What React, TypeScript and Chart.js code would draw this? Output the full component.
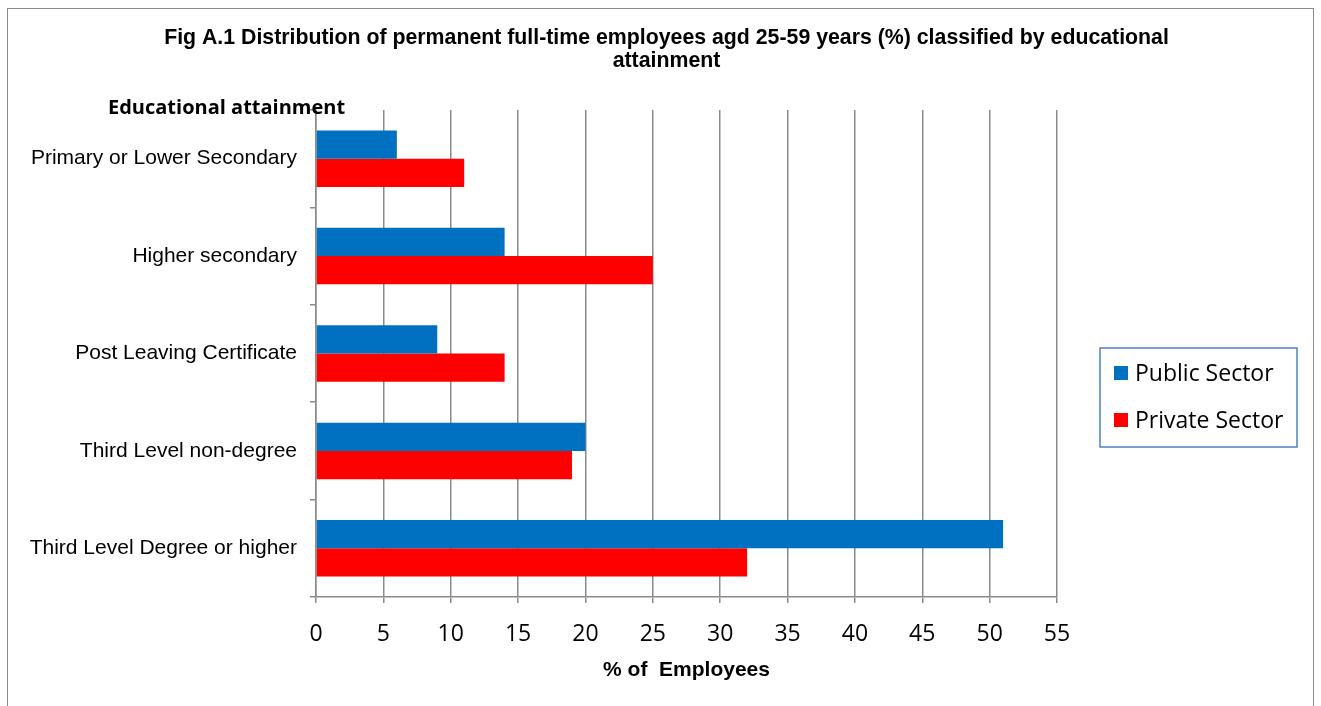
import React, { useEffect, useRef } from "react";
import { Chart, registerables } from "chart.js";

Chart.register(...registerables);

const categories = [
  "Primary or Lower Secondary",
  "Higher secondary",
  "Post Leaving Certificate",
  "Third Level non-degree",
  "Third Level Degree or higher",
];
const publicSector = [6, 14, 9, 20, 51];
const privateSector = [11, 25, 14, 19, 32];
const seriesNames = ["Public Sector", "Private Sector"];
const seriesColors = ["#0070C0", "#FF0000"];
const titleLines = [
  "Fig A.1 Distribution of permanent full-time employees agd 25-59 years (%) classified by educational",
  "attainment",
];
const yAxisTitle = "Educational attainment";
const xAxisTitle = "% of  Employees";
const xMin = 0;
const xMax = 55;
const xStep = 5;

const GRID = "#8a8a8a";

const decorPlugin = {
  id: "decor",
  afterDraw(chart: any) {
    const ctx = chart.ctx;
    const area = chart.chartArea;
    ctx.save();
    // title
    ctx.fillStyle = "#000";
    ctx.textAlign = "center";
    ctx.textBaseline = "middle";
    ctx.font = 'bold 21.3px "Liberation Sans", Arial, sans-serif';
    const cx = chart.width / 2 + 6;
    titleLines.forEach((t, i) => ctx.fillText(t, cx, 29 + i * 23));
    // y axis heading
    ctx.textAlign = "left";
    ctx.font = 'bold 20px "Open Sans", sans-serif';
    ctx.fillText(yAxisTitle, area.left - 208, area.top - 2);
    // legend
    const lx = area.right + 43;
    const ly = area.top + 238;
    const lw = 197;
    const lh = 99;
    ctx.strokeStyle = "#4F81BD";
    ctx.lineWidth = 1.5;
    ctx.strokeRect(lx, ly, lw, lh);
    ctx.font = '23px "Open Sans", sans-serif';
    chart.data.datasets.forEach((ds: any, i: number) => {
      const y = ly + 25 + i * 47;
      ctx.fillStyle = ds.backgroundColor;
      ctx.fillRect(lx + 14, y - 7, 14, 14);
      ctx.fillStyle = "#000";
      ctx.textAlign = "left";
      ctx.textBaseline = "middle";
      ctx.fillText(ds.label, lx + 35, y + 1);
    });
    ctx.restore();
  },
};

export default function App() {
  const ref = useRef<HTMLCanvasElement | null>(null);
  useEffect(() => {
    if (!ref.current) return;
    const chart = new Chart(ref.current, {
      type: "bar",
      data: {
        labels: categories,
        datasets: [
          { label: seriesNames[0], data: publicSector, backgroundColor: seriesColors[0] },
          { label: seriesNames[1], data: privateSector, backgroundColor: seriesColors[1] },
        ],
      },
      options: {
        indexAxis: "y",
        responsive: true,
        maintainAspectRatio: false,
        animation: false,
        layout: { padding: { top: 101, right: 256, left: 0, bottom: 0 } },
        datasets: {
          bar: { categoryPercentage: 0.58, barPercentage: 1.0 },
        },
        plugins: {
          legend: { display: false },
          title: { display: false },
          tooltip: { enabled: false },
        },
        scales: {
          x: {
            min: xMin,
            max: xMax,
            ticks: {
              stepSize: xStep,
              color: "#000",
              font: { family: '"Open Sans", sans-serif', size: 23 },
              padding: 18,
            },
            grid: { color: GRID, lineWidth: 1.5, tickLength: 6 },
            border: { color: GRID, width: 1.5 },
            title: {
              display: true,
              text: xAxisTitle,
              color: "#000",
              font: { family: '"Liberation Sans", Arial, sans-serif', size: 21, weight: "bold" },
              padding: { top: 0, bottom: 44 },
            },
            afterFit(scale: any) {
              scale.height = 130;
            },
          },
          y: {
            ticks: {
              color: "#000",
              font: { family: '"Liberation Sans", Arial, sans-serif', size: 21 },
              padding: 13,
            },
            grid: { color: GRID, lineWidth: 1.5, tickLength: 6, drawOnChartArea: false },
            border: { color: GRID, width: 1.5 },
            afterFit(scale: any) {
              scale.width = 308;
            },
          },
        },
      },
      plugins: [decorPlugin],
    });
    return () => chart.destroy();
  }, []);
  return (
    <div
      style={{
        position: "fixed",
        left: 7,
        top: 8,
        width: 1307,
        height: 720,
        boxSizing: "border-box",
        border: "1px solid #8c8c8c",
        background: "#fff",
      }}
    >
      <div style={{ position: "relative", width: 1305, height: 718 }}>
        <canvas ref={ref} />
      </div>
    </div>
  );
}
